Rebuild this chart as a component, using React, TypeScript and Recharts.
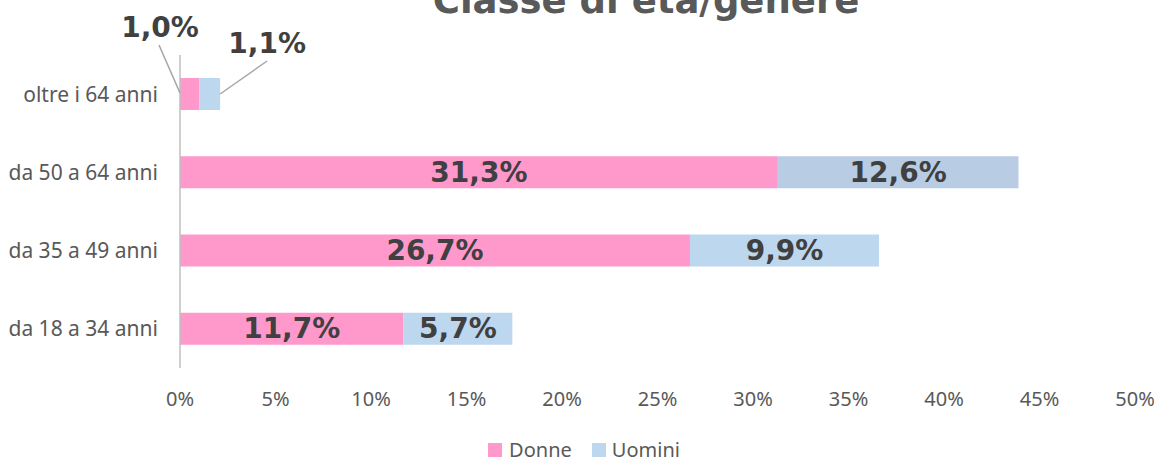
import { BarChart, Bar, XAxis, YAxis, Legend, LabelList, Cell } from 'recharts'

const categories = ['oltre i 64 anni', 'da 50 a 64 anni', 'da 35 a 49 anni', 'da 18 a 34 anni']
const donne = [1.0, 31.3, 26.7, 11.7]
const uomini = [1.1, 12.6, 9.9, 5.7]
const xTicks = [0, 5, 10, 15, 20, 25, 30, 35, 40, 45, 50]

const PINK = '#FF99CC'
const BLUE = '#BDD7EE'
const BLUE_ALT = '#B8CCE4'
const uominiColors = [BLUE, BLUE_ALT, BLUE, BLUE]

const data = categories.map((name, i) => ({ name, donne: donne[i], uomini: uomini[i] }))

const fmt = (v: number) => `${v.toFixed(1).replace('.', ',')}%`

const labelFont = {
  fontFamily: '"DejaVu Sans", Verdana, sans-serif',
  fontWeight: 700,
  fontSize: 28,
  fill: '#404040'
}

const makeLabel = (series: 'donne' | 'uomini') => (props: any) => {
  const { x, y, width, height, value, index } = props
  if (index === 0) {
    // small bars: label outside with leader line
    if (series === 'donne') {
      return (
        <g>
          <line x1={x - 21} y1={y - 33} x2={x} y2={y + 15} stroke="#A6A6A6" strokeWidth={1.5} />
          <text x={x - 20} y={y - 51} textAnchor="middle" dominantBaseline="central" style={labelFont}>
            {fmt(value)}
          </text>
        </g>
      )
    }
    const ex = x + width
    return (
      <g>
        <line x1={ex} y1={y + 16} x2={ex + 47} y2={y - 17} stroke="#A6A6A6" strokeWidth={1.5} />
        <text x={ex + 47} y={y - 35} textAnchor="middle" dominantBaseline="central" style={labelFont}>
          {fmt(value)}
        </text>
      </g>
    )
  }
  return (
    <text x={x + width / 2} y={y + height / 2} textAnchor="middle" dominantBaseline="central" style={labelFont}>
      {fmt(value)}
    </text>
  )
}

const renderLegend = () => (
  <div style={{ display: 'flex', justifyContent: 'center', alignItems: 'center', height: 20, lineHeight: '20px', fontFamily: '"Noto Sans", sans-serif', fontSize: 20, color: '#595959', paddingLeft: 14 }}>
    <span style={{ display: 'inline-block', width: 14, height: 14, background: PINK, marginRight: 7 }} />
    <span style={{ marginRight: 20 }}>Donne</span>
    <span style={{ display: 'inline-block', width: 14, height: 14, background: BLUE, marginRight: 6 }} />
    <span>Uomini</span>
  </div>
)

const yTickStyle = { fontFamily: '"Noto Sans", sans-serif', fontSize: 21, fill: '#595959' }
const xTickStyle = { fontFamily: '"Noto Sans", sans-serif', fontSize: 20, fill: '#595959' }

export default function App() {
  return (
    <div style={{ position: 'absolute', left: 0, top: 0, width: 1154, height: 461, background: '#fff' }}>
      <BarChart
        width={1154}
        height={461}
        data={data}
        layout="vertical"
        margin={{ top: 55, right: 19, left: 0, bottom: 33 }}
        barSize={32}
      >
        <text
          x={646}
          y={13}
          textAnchor="middle"
          style={{ fontFamily: '"DejaVu Sans", Verdana, sans-serif', fontWeight: 700, fontSize: 37, fill: '#595959' }}
        >
          Classe di età/genere
        </text>
        <XAxis
          type="number"
          domain={[0, 50]}
          ticks={xTicks}
          tickFormatter={(v: number) => `${v}%`}
          axisLine={false}
          tickLine={false}
          tickMargin={18}
          height={40}
          tick={xTickStyle}
          interval={0}
        />
        <YAxis
          type="category"
          dataKey="name"
          width={180}
          axisLine={{ stroke: '#BFBFBF', strokeWidth: 1.5 }}
          tickLine={false}
          tickMargin={16}
          tick={yTickStyle}
        />
        <Legend content={renderLegend} verticalAlign="bottom" height={20} wrapperStyle={{ top: 440, left: 0, width: 1154 }} />
        <Bar dataKey="donne" name="Donne" stackId="a" fill={PINK} isAnimationActive={false}>
          <LabelList dataKey="donne" content={makeLabel('donne')} />
        </Bar>
        <Bar dataKey="uomini" name="Uomini" stackId="a" fill={BLUE} isAnimationActive={false}>
          {data.map((_, i) => (
            <Cell key={`u-${i}`} fill={uominiColors[i]} />
          ))}
          <LabelList dataKey="uomini" content={makeLabel('uomini')} />
        </Bar>
      </BarChart>
    </div>
  )
}
